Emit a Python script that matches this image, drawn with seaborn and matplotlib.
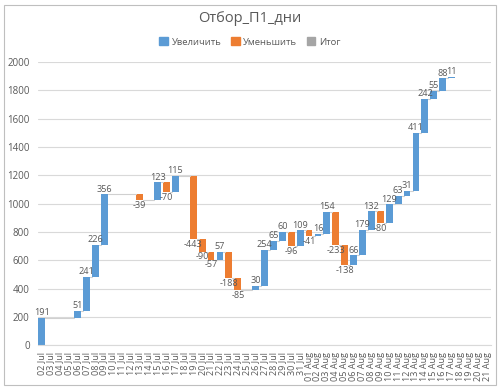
import numpy as np
import pandas as pd
import matplotlib
matplotlib.use("Agg")
import matplotlib.pyplot as plt
from matplotlib.patches import Patch, Rectangle
import seaborn as sns

# ---- data ----
dates = [f"{d:02d} Jul" for d in range(2, 32)] + [f"{d:02d} Aug" for d in range(1, 22)]
changes = [191, 0, 0, 0, 51, 241, 226, 356, 0, 0, 0, -39, 0, 123, -70, 115, 0,
           -443, -90, -57, 57, -188, -85, 0, 30, 254, 65, 60, -96, 109, -41, 16,
           154, -233, -138, 66, 179, 132, -80, 129, 63, 31, 411, 242, 55, 88, 11,
           0, 0, 0, 0]
legend_labels = ["Увеличить", "Уменьшить", "Итог"]
title = "Отбор_П1_дни"

# ---- style ----
sns.set_theme(style="white")
plt.rcParams["font.family"] = ["Open Sans", "DejaVu Sans"]
BLUE, ORANGE, GREY = "#5B9BD5", "#ED7D31", "#A5A5A5"
TXT = "#595959"
GRID = "#D9D9D9"

vals = np.array(changes, dtype=float)
end = np.cumsum(vals)
start = end - vals
df = pd.DataFrame({
    "date": dates,
    "change": vals,
    "bottom": np.minimum(start, end),
    "height": np.abs(vals),
    "end": end,
})
df["pos"] = np.arange(len(df))

fig = plt.figure(figsize=(5.0, 3.9), dpi=100)
ax = fig.add_axes([0.076, 0.115, 0.906, 0.726])

inc = df[df["change"] > 0]
dec = df[df["change"] < 0]
width = 0.76
sns.barplot(data=inc, x="date", y="height", order=dates, bottom=inc["bottom"].values,
            color=BLUE, saturation=1, width=width, ax=ax, linewidth=0, errorbar=None)
sns.barplot(data=dec, x="date", y="height", order=dates, bottom=dec["bottom"].values,
            color=ORANGE, saturation=1, width=width, ax=ax, linewidth=0, errorbar=None)

# connector lines from each non-zero bar to the next non-zero bar
nz = df[df["change"] != 0].reset_index(drop=True)
for i in range(len(nz) - 1):
    x0 = nz.loc[i, "pos"] + width / 2
    x1 = nz.loc[i + 1, "pos"] - width / 2
    ax.plot([x0, x1], [nz.loc[i, "end"]] * 2, color="#D0D0D0", lw=0.8, zorder=1)

# data labels
for _, r in nz.iterrows():
    if r["change"] > 0:
        ax.text(r["pos"], r["end"] + 6, f"{int(r['change'])}", ha="center", va="bottom",
                fontsize=6.6, color=TXT, zorder=5)
    else:
        ax.text(r["pos"], r["end"] - 6, f"{int(r['change'])}", ha="center", va="top",
                fontsize=6.6, color=TXT, zorder=5)

ax.set_xlim(-0.42, len(dates) - 0.58)
ax.set_ylim(0, 2000)
ax.set_yticks(np.arange(0, 2001, 200))
ax.yaxis.grid(True, color=GRID, lw=0.8)
ax.set_axisbelow(True)
ax.tick_params(axis="y", labelsize=7, colors=TXT, length=0, pad=6)
ax.tick_params(axis="x", labelsize=6.5, colors=TXT, length=0, pad=5)
ax.set_xticks(range(len(dates)))
ax.set_xticklabels(dates, rotation=90)
ax.set_xlabel("")
ax.set_ylabel("")
for s in ["left", "right", "top"]:
    ax.spines[s].set_visible(False)
ax.spines["bottom"].set_color(GRID)
ax.spines["bottom"].set_linewidth(0.8)

fig.text(0.5, 1 - 19 / 390, title, ha="center", va="center", fontsize=10.5, color=TXT)
handles = [Patch(color=c) for c in (BLUE, ORANGE, GREY)]
fig.legend(handles, legend_labels, loc="center", bbox_to_anchor=(0.5, 1 - 42 / 390),
           ncol=3, frameon=False, fontsize=6.8, handlelength=0.9, handleheight=0.9,
           handletextpad=0.4, columnspacing=1.0, labelcolor=TXT)

fig.patches.append(Rectangle((0.008, 0.012), 0.984, 0.976, transform=fig.transFigure,
                             fill=False, edgecolor="#BFBFBF", lw=0.8))

fig.savefig("out.png", dpi=100)
